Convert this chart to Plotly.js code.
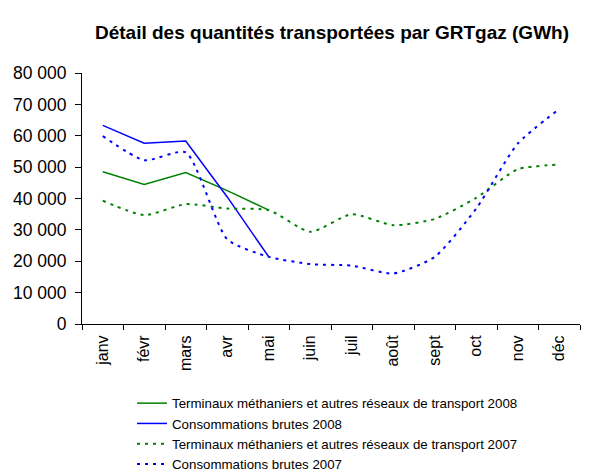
<!DOCTYPE html>
<html><head><meta charset="utf-8">
<script src="https://cdn.plot.ly/plotly-3.0.1.min.js"></script>
<style>body{margin:0;background:#fff}</style>
</head><body>
<div id="chart" style="width:590px;height:473px"></div>
<script>
const months = ["janv","févr","mars","avr","mai","juin","juil","août","sept","oct","nov","déc"];
const terminaux2008 = [48500, 44500, 48300, 42500, 36300];
const conso2008 = [63300, 57600, 58300, 40500, 21400];
const terminaux2007 = [39300, 34700, 38200, 36800, 36300, 29400, 35000, 31500, 33500, 40200, 49300, 50800];
const conso2007 = [59900, 52200, 54700, 27000, 21400, 19100, 18600, 16100, 21400, 36800, 57500, 68500];

const traces = [
  {x: months.slice(0, terminaux2008.length), y: terminaux2008, name: "Terminaux méthaniers et autres réseaux de transport 2008",
   mode: "lines", line: {color: "#008000", width: 1.5}},
  {x: months.slice(0, conso2008.length), y: conso2008, name: "Consommations brutes 2008",
   mode: "lines", line: {color: "#0000ff", width: 1.5}},
  {x: months, y: terminaux2007, name: "Terminaux méthaniers et autres réseaux de transport 2007",
   mode: "lines", line: {color: "#008000", width: 2, dash: "3px,5px", shape: "spline", smoothing: 0.6}},
  {x: months, y: conso2007, name: "Consommations brutes 2007",
   mode: "lines", line: {color: "#0000ff", width: 2, dash: "3px,5px", shape: "spline", smoothing: 0.6}}
];

const layout = {
  width: 590, height: 473,
  margin: {l: 82, r: 10, t: 73, b: 149, autoexpand: false},
  paper_bgcolor: "#fff", plot_bgcolor: "#fff",
  separators: ", ",
  font: {family: "Liberation Sans, Arial, sans-serif", color: "#000", size: 14},
  title: {text: "<b>Détail des quantités transportées par GRTgaz (GWh)</b>",
    font: {size: 19, family: "Liberation Sans, Arial, sans-serif", color: "#000"},
    x: 332/590, xanchor: "center", xref: "container", y: 1 - 32/473, yref: "container", yanchor: "middle"},
  xaxis: {type: "category", range: [-0.5, 11.5], tickangle: -90, ticks: "outside", tickson: "boundaries",
    ticklen: 5, tickcolor: "#000", showline: true, linecolor: "#000", linewidth: 1, showgrid: false, zeroline: false,
    tickfont: {size: 16}, automargin: false, ticklabelstandoff: 4},
  yaxis: {range: [0, 80000], dtick: 10000, tickformat: ",d", ticks: "outside", ticklen: 6, tickcolor: "#000",
    showline: true, linecolor: "#000", linewidth: 1, showgrid: false, zeroline: false, tickfont: {size: 17.5},
    automargin: false, ticklabelstandoff: 5},
  showlegend: true,
  legend: {orientation: "v", xref: "container", yref: "container", x: 132/590, xanchor: "left",
    y: 1 - 388/473, yanchor: "top",
    font: {size: 13.3}, tracegroupgap: 0, bgcolor: "rgba(0,0,0,0)"}
};
Plotly.newPlot("chart", traces, layout, {displayModeBar: false, staticPlot: true});
</script>
</body></html>
